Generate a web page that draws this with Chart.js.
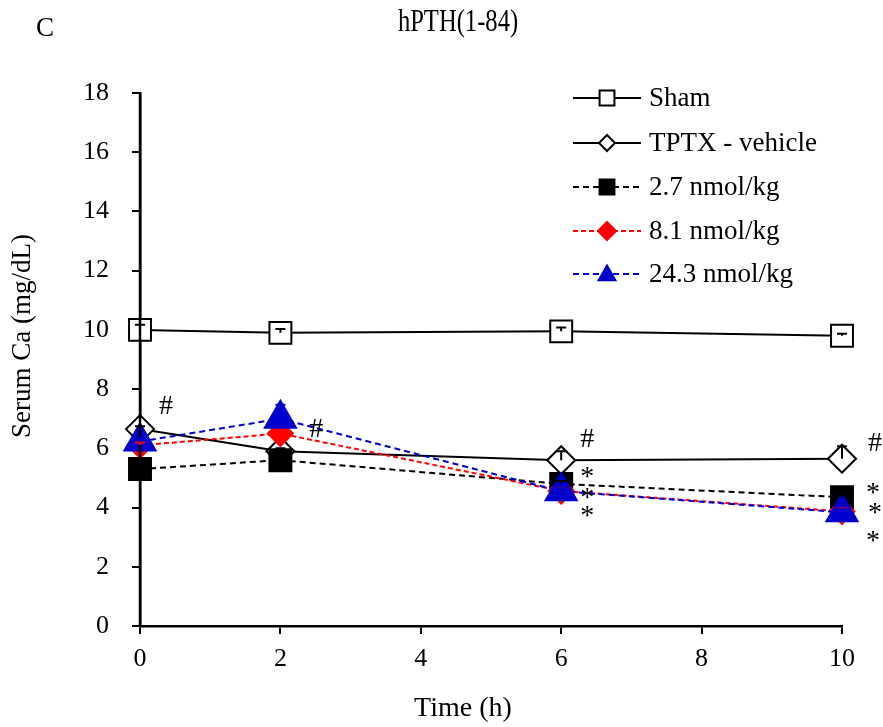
<!DOCTYPE html>
<html><head><meta charset="utf-8">
<script src="https://cdn.jsdelivr.net/npm/chart.js@4/dist/chart.umd.min.js"></script>
<style>html,body{margin:0;padding:0;background:#fff;} #wrap{width:883px;height:727px;position:relative;}</style>
</head><body><div id="wrap"><canvas id="c" width="883" height="727"></canvas></div>
<script>
// ---- data ----
const timePoints = [0, 2, 6, 10];
const seriesNames = ['Sham', 'TPTX - vehicle', '2.7 nmol/kg', '8.1 nmol/kg', '24.3 nmol/kg'];
const shamValues    = [10.0, 9.9, 9.95, 9.8];
const tptxValues    = [6.65, 5.9, 5.6, 5.65];
const dose27Values  = [5.3, 5.6, 4.8, 4.35];
const dose81Values  = [6.1, 6.5, 4.56, 3.87];
const dose243Values = [6.23, 7.0, 4.55, 3.84];
const shamErr    = [0.17, 0.13, 0.13, 0.07];
const tptxErr    = [0.1, 0.1, 0.3, 0.42];
const dose27Err  = [0.1, 0.1, 0.1, 0.1];
const dose81Err  = [0.1, 0.1, 0.1, 0.1];
const dose243Err = [0.1, 0.47, 0.1, 0.1];
const xTickValues = [0, 2, 4, 6, 8, 10];
const yTickValues = [0, 2, 4, 6, 8, 10, 12, 14, 16, 18];
const chartTitle = 'hPTH(1-84)';
const panelLabel = 'C';
const xAxisTitle = 'Time (h)';
const yAxisTitle = 'Serum Ca (mg/dL)';
const hashMarks = [[0.37, 7.47], [2.51, 6.70], [6.37, 6.35], [10.47, 6.22]];
const starMarks = [[6.37, 5.24], [6.37, 4.53], [6.37, 3.92], [10.44, 4.71], [10.47, 4.02], [10.44, 3.07]];

const FONT = "'Liberation Serif', 'Times New Roman', serif";

const styles = [
  {color: '#000000', fill: '#ffffff', point: 'rect', r: 15.5, dash: [], legR: 10.5},
  {color: '#000000', fill: '#ffffff', point: 'rectRot', r: 14, dash: [], legR: 8},
  {color: '#000000', fill: '#000000', point: 'rect', r: 15.5, dash: [6, 4], legR: 10.5},
  {color: '#ff0000', fill: '#ff0000', point: 'rectRot', r: 12.5, dash: [5, 3], legR: 9},
  {color: '#0000cc', fill: '#0000cc', point: 'triangle', r: 18, dash: [6, 4], legR: 10.5}
];
const seriesValues = [shamValues, tptxValues, dose27Values, dose81Values, dose243Values];
const seriesErr = [shamErr, tptxErr, dose27Err, dose81Err, dose243Err];
const drawOrder = [5, 4, 3, 2, 1];

const datasets = seriesNames.map((name, i) => ({
  label: name,
  data: timePoints.map((t, j) => ({x: t, y: seriesValues[i][j]})),
  borderColor: styles[i].color,
  backgroundColor: styles[i].fill,
  pointBackgroundColor: styles[i].fill,
  pointBorderColor: styles[i].color,
  pointBorderWidth: 2,
  pointStyle: styles[i].point,
  pointRadius: styles[i].r,
  borderWidth: 2,
  borderDash: styles[i].dash,
  tension: 0,
  fill: false,
  clip: false,
  order: drawOrder[i]
}));

function drawMarker(ctx, style, x, y, r, fill, stroke) {
  ctx.save();
  ctx.beginPath();
  if (style === 'rect') {
    const s = r * Math.SQRT1_2;
    ctx.rect(x - s, y - s, 2 * s, 2 * s);
  } else if (style === 'rectRot') {
    ctx.moveTo(x, y - r); ctx.lineTo(x + r, y); ctx.lineTo(x, y + r); ctx.lineTo(x - r, y); ctx.closePath();
  } else {
    ctx.moveTo(x, y - r * 0.8); ctx.lineTo(x + r * 0.8, y + r * 0.6); ctx.lineTo(x - r * 0.8, y + r * 0.6); ctx.closePath();
  }
  ctx.fillStyle = fill; ctx.fill();
  ctx.lineWidth = 2; ctx.strokeStyle = stroke; ctx.setLineDash([]); ctx.stroke();
  ctx.restore();
}

const decor = {
  id: 'decor',
  afterDatasetsDraw(chart) {
    const ctx = chart.ctx, xs = chart.scales.x, ys = chart.scales.y, a = chart.chartArea;
    ctx.save();
    ctx.strokeStyle = '#000'; ctx.lineWidth = 2.5;
    ctx.beginPath(); ctx.moveTo(a.left, a.top); ctx.lineTo(a.left, a.bottom); ctx.stroke();
    seriesErr.forEach((errs, i) => {
      ctx.strokeStyle = styles[i].color; ctx.lineWidth = 2; ctx.setLineDash([]);
      errs.forEach((e, j) => {
        const x = xs.getPixelForValue(timePoints[j]);
        const y0 = ys.getPixelForValue(seriesValues[i][j]);
        const y1 = ys.getPixelForValue(seriesValues[i][j] + e);
        ctx.beginPath(); ctx.moveTo(x, y0); ctx.lineTo(x, y1);
        ctx.moveTo(x - 5, y1); ctx.lineTo(x + 5, y1); ctx.stroke();
      });
    });
    ctx.restore();
  },
  afterDraw(chart) {
    const ctx = chart.ctx, xs = chart.scales.x, ys = chart.scales.y;
    ctx.save();
    ctx.fillStyle = '#000';
    ctx.textAlign = 'center'; ctx.textBaseline = 'middle';
    ctx.font = '27px ' + FONT;
    ctx.fillText(panelLabel, 45, 29);
    ctx.save();
    ctx.translate(458, 23); ctx.scale(0.82, 1.05);
    ctx.font = '30px ' + FONT;
    ctx.fillText(chartTitle, 0, 0);
    ctx.restore();
    ctx.font = '28px ' + FONT;
    ctx.fillText(xAxisTitle, 463, 709);
    ctx.save();
    ctx.translate(23, 336); ctx.rotate(-Math.PI / 2);
    ctx.font = '27px ' + FONT;
    ctx.fillText(yAxisTitle, 0, 0);
    ctx.restore();
    const rowY = [98, 143, 187, 231, 274];
    seriesNames.forEach((name, i) => {
      const y = rowY[i];
      ctx.strokeStyle = styles[i].color; ctx.lineWidth = 2; ctx.setLineDash(styles[i].dash);
      ctx.beginPath(); ctx.moveTo(573, y); ctx.lineTo(641, y); ctx.stroke();
      ctx.setLineDash([]);
      drawMarker(ctx, styles[i].point, 607, y, styles[i].legR, styles[i].fill, styles[i].color);
      ctx.fillStyle = '#000'; ctx.font = '27px ' + FONT; ctx.textAlign = 'left'; ctx.textBaseline = 'middle';
      ctx.fillText(name, 649, y + 1);
    });
    ctx.textAlign = 'center'; ctx.textBaseline = 'alphabetic'; ctx.font = '28px ' + FONT; ctx.fillStyle = '#000';
    hashMarks.forEach(([vx, vy]) => ctx.fillText('#', xs.getPixelForValue(vx), ys.getPixelForValue(vy) + 9));
    starMarks.forEach(([vx, vy]) => ctx.fillText('*', xs.getPixelForValue(vx), ys.getPixelForValue(vy) + 14));
    ctx.restore();
  }
};

new Chart(document.getElementById('c'), {
  type: 'line',
  data: {datasets},
  options: {
    responsive: false,
    animation: false,
    events: [],
    layout: {padding: {top: 93, right: 41, left: 0, bottom: 0}},
    plugins: {legend: {display: false}, title: {display: false}, tooltip: {enabled: false}},
    scales: {
      x: {
        type: 'linear', min: 0, max: 10,
        afterBuildTicks: s => { s.ticks = xTickValues.map(v => ({value: v})); },
        afterFit: s => { s.height = 101; },
        grid: {drawOnChartArea: false, drawTicks: true, tickLength: 8, color: '#000', lineWidth: 2},
        border: {display: true, color: '#000', width: 2.5},
        ticks: {color: '#000', font: {family: FONT, size: 26}, padding: 10, maxRotation: 0}
      },
      y: {
        type: 'linear', min: 0, max: 18,
        afterBuildTicks: s => { s.ticks = yTickValues.map(v => ({value: v})); },
        afterFit: s => { s.width = 140; },
        grid: {drawOnChartArea: false, drawTicks: true, tickLength: 8, color: '#000', lineWidth: 2},
        border: {display: true, color: '#000', width: 2.5},
        ticks: {color: '#000', font: {family: FONT, size: 26}, padding: 23}
      }
    }
  },
  plugins: [decor]
});
</script>
</body></html>
